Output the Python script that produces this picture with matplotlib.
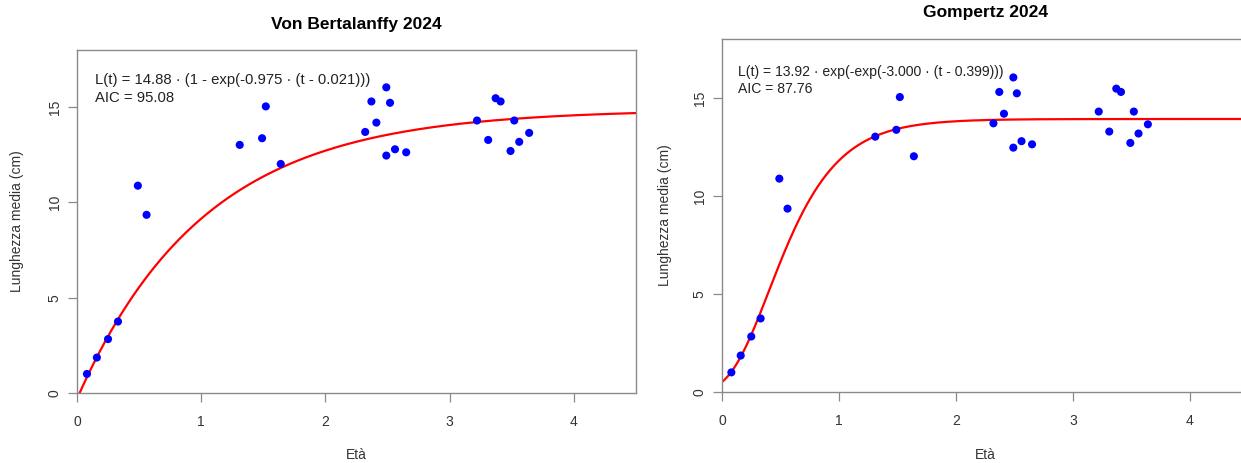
import numpy as np
import matplotlib
matplotlib.use("Agg")
import matplotlib.pyplot as plt

# ---- data ----
eta = [0.08, 0.16, 0.25, 0.33, 0.49, 0.56, 1.31, 1.49, 1.52, 1.64,
       2.32, 2.37, 2.41, 2.49, 2.49, 2.52, 2.56, 2.65,
       3.22, 3.31, 3.37, 3.41, 3.49, 3.52, 3.56, 3.64]
lunghezza = [1.0, 1.86, 2.83, 3.75, 10.88, 9.35, 13.02, 13.37, 15.04, 12.02,
             13.70, 15.30, 14.19, 16.04, 12.46, 15.23, 12.79, 12.63,
             14.30, 13.28, 15.47, 15.30, 12.70, 14.30, 13.18, 13.65]

# fitted parameters shown on the chart
vb_Linf, vb_k, vb_t0, vb_aic = 14.88, 0.975, 0.021, 95.08
gz_Linf, gz_k, gz_ti, gz_aic = 13.92, 3.000, 0.399, 87.76

titles = ["Von Bertalanffy 2024", "Gompertz 2024"]
xticks = [0, 1, 2, 3, 4]
yticks = [0, 5, 10, 15]

W, H = 1241, 463
fig = plt.figure(figsize=(W / 100, H / 100), dpi=100)
plt.rcParams['font.family'] = ['Liberation Sans', 'DejaVu Sans']

frame_col = "#8a8a8a"
txt_col = "#333333"

def px_axes(l, r, t, b):
    return fig.add_axes([l / W, 1 - b / H, (r - l) / W, (b - t) / H])

ax1 = px_axes(77, 636, 50, 393)
ax2 = px_axes(722, 722 + 526.5, 39, 392)

t = np.linspace(0, 4.5, 400)
vb_curve = vb_Linf * (1 - np.exp(-vb_k * (t - vb_t0)))
gz_curve = gz_Linf * np.exp(-np.exp(-gz_k * (t - gz_ti)))

texts = [
    [f"L(t) = {vb_Linf:.2f} · (1 - exp(-{vb_k:.3f} · (t - {vb_t0:.3f})))", f"AIC = {vb_aic:.2f}"],
    [f"L(t) = {gz_Linf:.2f} · exp(-exp(-{gz_k:.3f} · (t - {gz_ti:.3f})))", f"AIC = {gz_aic:.2f}"],
]
curves = [vb_curve, gz_curve]
title_y = [25, 13]
ax_top = [50, 39]
ax_bot = [393, 392]
ax_left = [77, 722]
ax_w = [559, 526.5]
text_x = [95, 738]
text_y = [(80, 98), (72, 89)]
text_fs = [10.7, 10.1]
ylab_x = [17, 665]

for i, ax in enumerate([ax1, ax2]):
    ax.plot(t, curves[i], color="#ff0000", lw=1.6, zorder=2, clip_on=True)
    ax.scatter(eta, lunghezza, s=34, color="#0000ff", edgecolors="none", zorder=3)
    ax.set_xlim(0, 4.5)
    ax.set_ylim(0, 18)
    ax.set_xticks(xticks)
    ax.set_yticks(yticks)
    ax.set_yticklabels([str(v) for v in yticks], rotation=90, va="center")
    for s in ax.spines.values():
        s.set_color(frame_col)
        s.set_linewidth(1.0)
    ax.tick_params(axis="both", length=6.5, width=0.9, color=frame_col,
                   labelsize=10, labelcolor=txt_col)
    ax.tick_params(axis="x", pad=9)
    ax.tick_params(axis="y", pad=4.5)
    h = ax_bot[i] - ax_top[i]
    ax.set_xlabel("Età", fontsize=10, color=txt_col, va="center")
    ax.xaxis.set_label_coords(0.5, (ax_bot[i] - 455) / h)
    ax.set_ylabel("Lunghezza media (cm)", fontsize=10, color=txt_col, va="center")
    ax.yaxis.set_label_coords((ylab_x[i] - ax_left[i]) / ax_w[i], 0.5)
    for j, line in enumerate(texts[i]):
        ax.text((text_x[i] - ax_left[i]) / ax_w[i], (ax_bot[i] - text_y[i][j]) / h, line,
                transform=ax.transAxes, ha="left", va="center", fontsize=text_fs[i],
                color="#222222")
    cx = (ax_left[i] + ax_w[i] / 2) / W
    fig.text(cx, 1 - title_y[i] / H, titles[i], ha="center", va="center",
             fontsize=12.5, fontweight="bold",
             family=["Liberation Sans Narrow", "Liberation Sans", "DejaVu Sans"])

fig.savefig("out.png", dpi=100)
